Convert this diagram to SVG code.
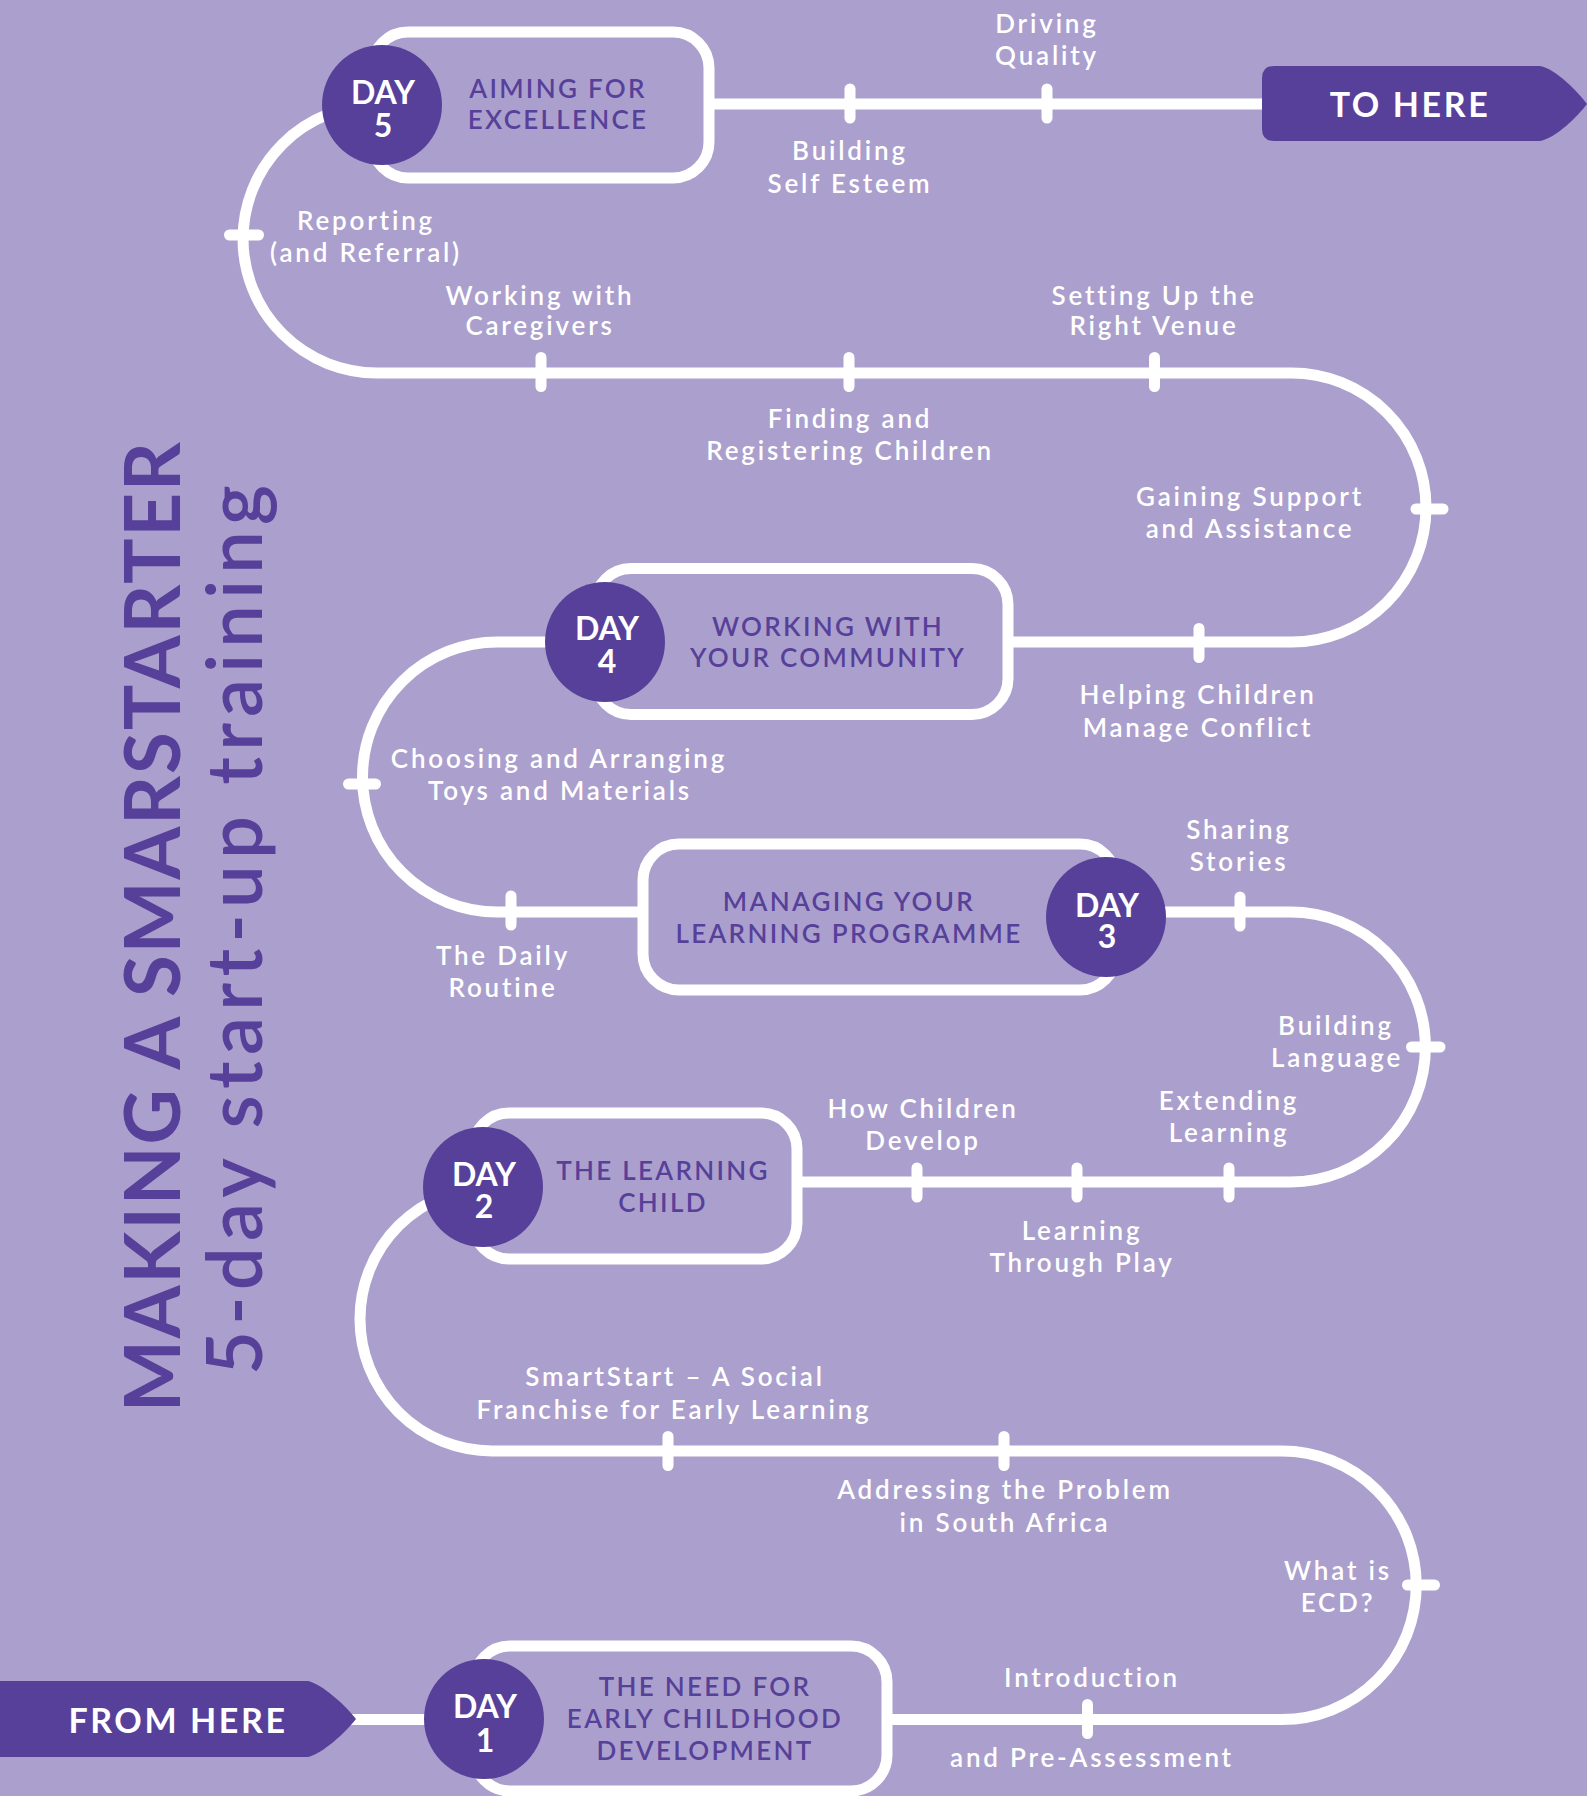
<svg xmlns="http://www.w3.org/2000/svg" width="1587" height="1796" viewBox="0 0 1587 1796">
<style>
.track{fill:none;stroke:#fff;stroke-width:11}
.tick{stroke:#fff;stroke-width:11;stroke-linecap:round}
.box{fill:none;stroke:#fff;stroke-width:11}
.disc{fill:#574099}
.day{fill:#fff;font-family:Lato,'Open Sans','DejaVu Sans',sans-serif;font-size:32px;font-weight:700;text-anchor:middle}
.ttl{fill:#574099;font-family:Lato,'Open Sans','DejaVu Sans',sans-serif;font-size:26px;font-weight:600;letter-spacing:2.3px;text-anchor:middle}
.lbl{fill:#fff;font-family:Lato,'Open Sans','DejaVu Sans',sans-serif;font-size:26px;font-weight:600;letter-spacing:2.8px;text-anchor:middle}
.flag{fill:#574099}
.flagtxt{fill:#fff;font-family:Lato,'Open Sans','DejaVu Sans',sans-serif;font-size:34px;font-weight:700;letter-spacing:2.6px;text-anchor:middle}
.head{fill:#574099;font-family:Lato,'Open Sans','DejaVu Sans',sans-serif;font-size:76px;font-weight:700;text-anchor:middle}
</style>
<rect width="1587" height="1796" fill="#aba0cd"/>

<g id="title">
  <text class="head" transform="translate(180,927) rotate(-90)" textLength="970" lengthAdjust="spacing">MAKING A SMARSTARTER</text>
  <text class="head" transform="translate(262,930) rotate(-90)" textLength="890" lengthAdjust="spacing" style="font-weight:600">5-day start-up training</text>
</g>

<g id="connectors">
  <path class="track" d="M340 1719.5 H484"/>
  <path class="track" d="M887 1719.5 H1282 A134 134 0 0 0 1282 1451 H492 A132 132 0 0 1 492 1187"/>
  <path class="track" d="M797 1182 H1290.5 A135 135 0 0 0 1290.5 912 H1106"/>
  <path class="track" d="M643 912 H497.5 A135 135 0 0 1 497.5 642 H605"/>
  <path class="track" d="M1008 642 H1291.5 A134.5 134.5 0 0 0 1291.5 373 H377 A134 134 0 0 1 377 105"/>
  <path class="track" d="M709 104 H1275"/>
  <line class="tick" x1="850" y1="89" x2="850" y2="118"/>
  <line class="tick" x1="1047" y1="89" x2="1047" y2="118"/>
  <line class="tick" x1="229.5" y1="235" x2="258.5" y2="235"/>
  <line class="tick" x1="541" y1="357.5" x2="541" y2="386.5"/>
  <line class="tick" x1="849" y1="357.5" x2="849" y2="386.5"/>
  <line class="tick" x1="1154.5" y1="357.5" x2="1154.5" y2="386.5"/>
  <line class="tick" x1="1416" y1="509" x2="1443" y2="509"/>
  <line class="tick" x1="1199" y1="628.5" x2="1199" y2="657.5"/>
  <line class="tick" x1="348.5" y1="784" x2="375.5" y2="784"/>
  <line class="tick" x1="511" y1="896" x2="511" y2="925"/>
  <line class="tick" x1="1240" y1="897" x2="1240" y2="926"/>
  <line class="tick" x1="1411.5" y1="1047" x2="1440" y2="1047"/>
  <line class="tick" x1="917" y1="1168" x2="917" y2="1197"/>
  <line class="tick" x1="1077" y1="1168" x2="1077" y2="1197"/>
  <line class="tick" x1="1229" y1="1168" x2="1229" y2="1197"/>
  <line class="tick" x1="1407.5" y1="1585" x2="1434.5" y2="1585"/>
  <line class="tick" x1="668" y1="1436.5" x2="668" y2="1465.5"/>
  <line class="tick" x1="1004" y1="1436.5" x2="1004" y2="1465.5"/>
  <line class="tick" x1="1087.5" y1="1704.5" x2="1087.5" y2="1733.5"/>
</g>

<g id="from-here">
  <path class="flag" d="M-5 1681 H308 C322 1684 345 1705 356 1719 C345 1733 322 1754 308 1757 H-5 Z"/>
  <text class="flagtxt" x="178" y="1733">FROM HERE</text>
</g>
<g id="to-here">
  <path class="flag" d="M1274 66 H1540 C1556 69 1578 92 1587 104 C1578 116 1556 138 1540 141 H1274 Q1262 141 1262 129 V78 Q1262 66 1274 66 Z"/>
  <text class="flagtxt" x="1410" y="117">TO HERE</text>
</g>

<g id="day1">
  <rect class="box" x="474" y="1646" width="413" height="145" rx="36"/>
  <circle class="disc" cx="484" cy="1719" r="60"/>
  <text class="day" x="485" y="1718">DAY</text>
  <text class="day" x="485" y="1752">1</text>
  <text class="ttl" x="705" y="1696">THE NEED FOR</text>
  <text class="ttl" x="705" y="1728">EARLY CHILDHOOD</text>
  <text class="ttl" x="705" y="1760">DEVELOPMENT</text>
</g>
<g id="day2">
  <rect class="box" x="473" y="1113" width="324" height="146" rx="36"/>
  <circle class="disc" cx="483" cy="1187" r="60"/>
  <text class="day" x="484" y="1186">DAY</text>
  <text class="day" x="484" y="1218">2</text>
  <text class="ttl" x="663" y="1180">THE LEARNING</text>
  <text class="ttl" x="663" y="1212">CHILD</text>
</g>
<g id="day3">
  <rect class="box" x="643" y="844" width="473" height="146" rx="36"/>
  <circle class="disc" cx="1106" cy="917" r="60"/>
  <text class="day" x="1107" y="917">DAY</text>
  <text class="day" x="1107" y="948">3</text>
  <text class="ttl" x="849" y="911">MANAGING YOUR</text>
  <text class="ttl" x="849" y="943">LEARNING PROGRAMME</text>
</g>
<g id="day4">
  <rect class="box" x="595" y="568.5" width="413" height="146" rx="36"/>
  <circle class="disc" cx="605" cy="642" r="60"/>
  <text class="day" x="607" y="640">DAY</text>
  <text class="day" x="607" y="673">4</text>
  <text class="ttl" x="828" y="636">WORKING WITH</text>
  <text class="ttl" x="828" y="667">YOUR COMMUNITY</text>
</g>
<g id="day5">
  <rect class="box" x="372" y="32" width="337" height="146" rx="36"/>
  <circle class="disc" cx="382" cy="105" r="60"/>
  <text class="day" x="383" y="104">DAY</text>
  <text class="day" x="383" y="137">5</text>
  <text class="ttl" x="558" y="98">AIMING FOR</text>
  <text class="ttl" x="558" y="129">EXCELLENCE</text>
</g>

<g id="labels">
  <g id="lbl-driving"><text class="lbl" x="1047" y="33">Driving</text><text class="lbl" x="1047" y="65">Quality</text></g>
  <g id="lbl-selfesteem"><text class="lbl" x="850" y="160">Building</text><text class="lbl" x="850" y="193">Self Esteem</text></g>
  <g id="lbl-reporting"><text class="lbl" x="366" y="230">Reporting</text><text class="lbl" x="366" y="262">(and Referral)</text></g>
  <g id="lbl-caregivers"><text class="lbl" x="540" y="305">Working with</text><text class="lbl" x="540" y="335">Caregivers</text></g>
  <g id="lbl-venue"><text class="lbl" x="1154" y="305">Setting Up the</text><text class="lbl" x="1154" y="335">Right Venue</text></g>
  <g id="lbl-finding"><text class="lbl" x="850" y="428">Finding and</text><text class="lbl" x="850" y="460">Registering Children</text></g>
  <g id="lbl-support"><text class="lbl" x="1250" y="506">Gaining Support</text><text class="lbl" x="1250" y="538">and Assistance</text></g>
  <g id="lbl-conflict"><text class="lbl" x="1198" y="704">Helping Children</text><text class="lbl" x="1198" y="737">Manage Conflict</text></g>
  <g id="lbl-toys"><text class="lbl" x="559" y="768">Choosing and Arranging</text><text class="lbl" x="560" y="800">Toys and Materials</text></g>
  <g id="lbl-routine"><text class="lbl" x="503" y="965">The Daily</text><text class="lbl" x="503" y="997">Routine</text></g>
  <g id="lbl-stories"><text class="lbl" x="1239" y="839">Sharing</text><text class="lbl" x="1239" y="871">Stories</text></g>
  <g id="lbl-language"><text class="lbl" x="1336" y="1035">Building</text><text class="lbl" x="1337" y="1067">Language</text></g>
  <g id="lbl-develop"><text class="lbl" x="923" y="1118">How Children</text><text class="lbl" x="923" y="1150">Develop</text></g>
  <g id="lbl-extending"><text class="lbl" x="1229" y="1110">Extending</text><text class="lbl" x="1229" y="1142">Learning</text></g>
  <g id="lbl-play"><text class="lbl" x="1082" y="1240">Learning</text><text class="lbl" x="1082" y="1272">Through Play</text></g>
  <g id="lbl-smartstart"><text class="lbl" x="675" y="1386">SmartStart – A Social</text><text class="lbl" x="674" y="1419">Franchise for Early Learning</text></g>
  <g id="lbl-problem"><text class="lbl" x="1005" y="1499">Addressing the Problem</text><text class="lbl" x="1005" y="1532">in South Africa</text></g>
  <g id="lbl-ecd"><text class="lbl" x="1338" y="1580">What is</text><text class="lbl" x="1338" y="1612">ECD?</text></g>
  <g id="lbl-intro"><text class="lbl" x="1092" y="1687">Introduction</text><text class="lbl" x="1092" y="1767">and Pre-Assessment</text></g>
</g>
</svg>
